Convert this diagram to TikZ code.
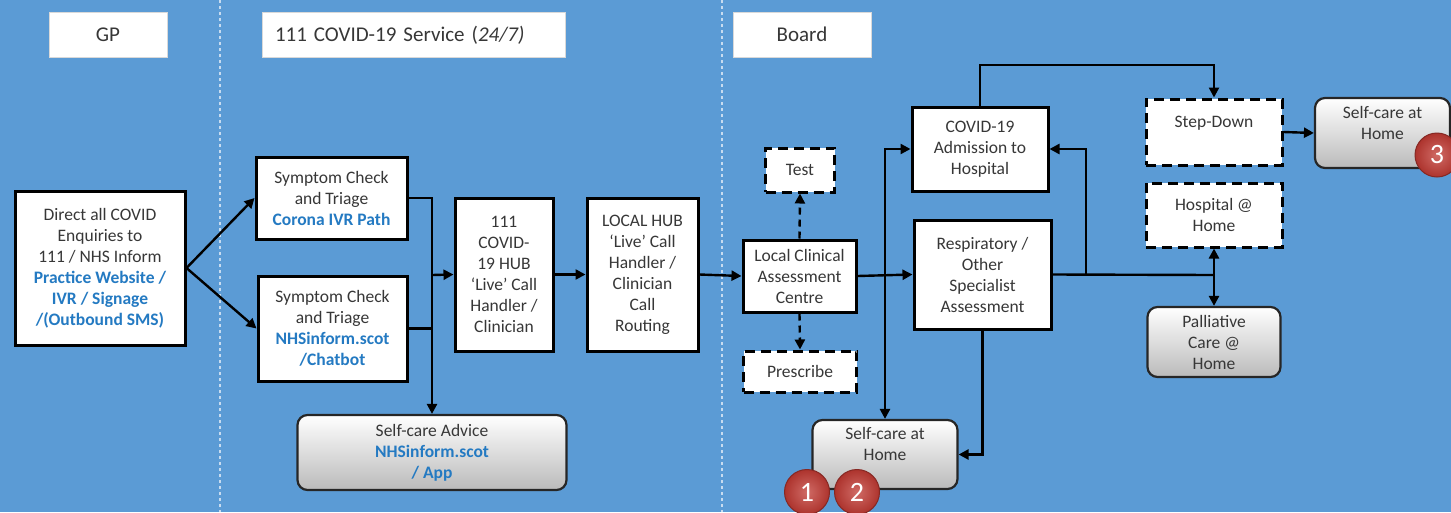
\documentclass[tikz,border=0pt]{standalone}
\usepackage{fontspec}
\setmainfont{Carlito}
\usetikzlibrary{arrows.meta}
\definecolor{bg}{RGB}{91,155,213}
\definecolor{lnk}{RGB}{36,122,194}
\definecolor{txt}{RGB}{55,55,55}
\definecolor{sepc}{RGB}{200,220,240}
\definecolor{redc}{RGB}{192,57,50}
\newcommand{\bl}[1]{{\color{lnk}\bfseries #1}}
\begin{document}
\begin{tikzpicture}[x=1pt,y=-1pt,
  every node/.style={font=\fontsize{17.5}{21}\selectfont, text=txt, align=center, inner sep=0pt},
  sbox/.style={draw=black, line width=3pt, fill=white},
  dbox/.style={draw=black, line width=3pt, dash pattern=on 10pt off 6pt, fill=white},
  gbox/.style={draw=black!85, line width=2.2pt, rounded corners=10pt, top color=white, bottom color=black!27},
  hbox/.style={fill=white, draw=black!15, line width=0.5pt, font=\fontsize{21}{24}\selectfont},
  arr/.style={draw=black, line width=2.4pt, -{Triangle[length=10pt,width=10pt]}},
  darr/.style={arr, dash pattern=on 7pt off 5pt},
  plain/.style={draw=black, line width=2.4pt},
  sepline/.style={draw=sepc, line width=1.2pt, dash pattern=on 3pt off 3pt},
  badge/.style={circle, minimum size=45pt, draw=redc!70!black, line width=1pt, inner color=redc!75!white, outer color=redc!90!black, text=white, font=\fontsize{28}{28}\selectfont}
]
\fill[bg] (0,0) rectangle (1451,512);
\useasboundingbox (0,0) rectangle (1451,512);
\draw[sepline] (220,0) -- (220,512);
\draw[sepline] (722,0) -- (722,512);

% headers
\node[hbox, minimum width=118pt, minimum height=45pt] (hgp) at (108,34.5) {GP};
\node[hbox, minimum height=45pt, text width=277pt, inner xsep=13pt, align=left] (h111) at (413.5,35) {111 COVID-19 Service (\textit{24/7)}};
\node[hbox, minimum width=138pt, minimum height=45pt] (hboard) at (802,34.5) {Board};

% GP
\node[sbox, minimum width=170pt, minimum height=154pt] (gp) at (100,268) {Direct all COVID\\Enquiries to\\111 / NHS Inform\\\bl{Practice Website /}\\\bl{IVR / Signage}\\\bl{/(Outbound SMS)}};

% 111 service
\node[sbox, minimum width=151pt, minimum height=82pt] (sc1) at (331.5,198) {Symptom Check\\and Triage\\\bl{Corona IVR Path}};
\node[sbox, minimum width=149pt, minimum height=105pt] (sc2) at (332.5,328.5) {Symptom Check\\and Triage\\\bl{NHSinform.scot}\\\bl{/Chatbot}};
\node[sbox, minimum width=98pt, minimum height=153pt] (hub) at (504,274.5) {111\\COVID-\\19 HUB\\‘Live’ Call\\Handler /\\Clinician};
\node[sbox, minimum width=111pt, minimum height=153pt] (lhub) at (642.5,274.5) {LOCAL HUB\\‘Live’ Call\\Handler /\\Clinician\\Call\\Routing};
\node[gbox, minimum width=269pt, minimum height=75pt] (sca) at (432,452.5) {Self-care Advice\\\bl{NHSinform.scot}\\\bl{/ App}};

% Board
\node[sbox, minimum width=113pt, minimum height=72pt] (lcac) at (799.5,276) {Local Clinical\\Assessment\\Centre};
\node[dbox, minimum width=69pt, minimum height=44pt] (test) at (800,170) {Test};
\node[dbox, minimum width=113pt, minimum height=41pt] (presc) at (800,371.5) {Prescribe};
\node[sbox, minimum width=136pt, minimum height=84pt] (adm) at (980,149) {COVID-19\\Admission to\\Hospital};
\node[sbox, minimum width=137pt, minimum height=109pt] (resp) at (982.5,274.5) {Respiratory /\\Other\\Specialist\\Assessment};
\node[gbox, minimum width=145pt, minimum height=69pt] (sch) at (885,454.5) {Self-care at\\Home\\~};
\node[dbox, minimum width=136pt, minimum height=66pt] (sd) at (1214,132) {Step-Down\\~};
\node[gbox, minimum width=135pt, minimum height=70pt] (sch3) at (1382.5,133) {Self-care at\\Home\\~};
\node[dbox, minimum width=136pt, minimum height=64pt] (hh) at (1214,215) {Hospital @\\Home};
\node[gbox, minimum width=133pt, minimum height=70pt] (pal) at (1214,342) {Palliative\\Care @\\Home};

% junction coordinates
\coordinate (bus) at (432,275);
\coordinate (v1) at (885,275);
\coordinate (ctop) at (1214,65);
\coordinate (bus2) at (1214,275);
\coordinate (j3) at (1086,275);

% connectors
\draw[arr] (gp.east) -- (sc1.west);
\draw[arr] (gp.east) -- (sc2.west);
\draw[plain] (sc1.east) -| (bus);
\draw[plain] (sc2.east) -| (bus);
\draw[arr] (bus) -- (hub.west);
\draw[arr] (bus) -- (sca.north);
\draw[arr] (hub.east) -- (lhub.west);
\draw[arr] (lhub.east) -- (lcac.west);
\draw[darr] (lcac.north) -- (test.south);
\draw[darr] (lcac.south) -- (presc.north);
\draw[arr] (lcac.east) -- (resp.west);
\draw[arr] (v1) |- (adm.west);
\draw[arr] (v1) -- (sch.north);
\draw[arr] (adm.north) |- (ctop) -- (sd.north);
\draw[arr] (sd.east) -- (sch3.west);
\draw[plain] (resp.east) -- (bus2);
\draw[arr] (j3) |- (adm.east);
\draw[arr] (bus2) -- (hh.south);
\draw[arr] (bus2) -- (pal.north);
\draw[arr] (resp.south) |- (sch.east);

% badges
\node[badge] (b1) at (807,492) {1};
\node[badge] (b2) at (857,492) {2};
\node[badge, minimum size=44pt] (b3) at (1437,155) {3};
\end{tikzpicture}
\end{document}
